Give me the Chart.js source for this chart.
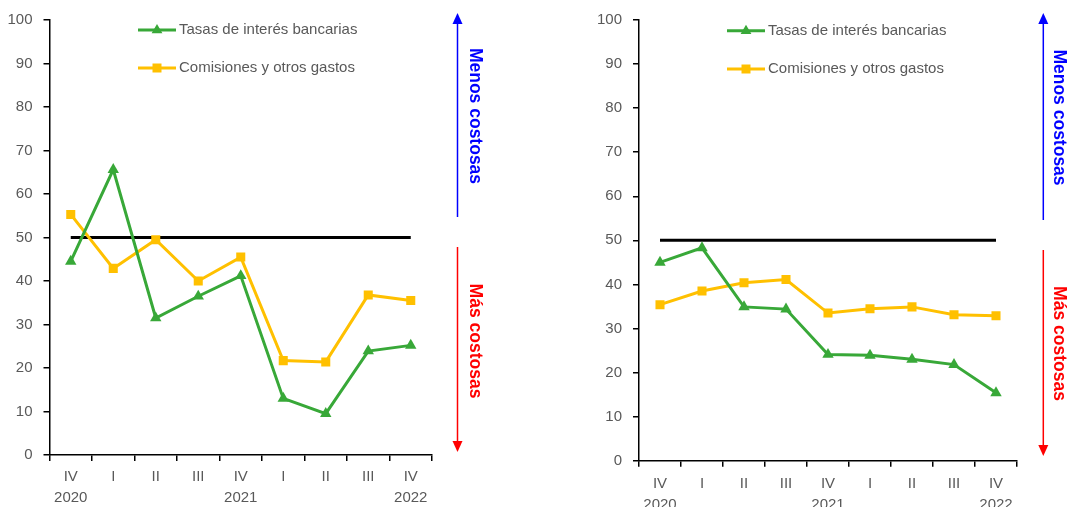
<!DOCTYPE html>
<html>
<head>
<meta charset="utf-8">
<script src="https://cdn.jsdelivr.net/npm/chart.js@4/dist/chart.umd.min.js"></script>
<style>
  body { margin: 0; background: #fff; }
  .panel { position: absolute; top: 0; height: 507px; }
</style>
</head>
<body>
<div class="panel" style="left:0; width:535px;"><canvas id="izq"></canvas></div>
<div class="panel" style="left:535px; width:534px;"><canvas id="der"></canvas></div>
<script>
// trimestres y años del eje x
const trimestres = ['IV', 'I', 'II', 'III', 'IV', 'I', 'II', 'III', 'IV'];
const anios = ['2020', '', '', '', '2021', '', '', '', '2022'];
const series = ['Tasas de interés bancarias', 'Comisiones y otros gastos'];

// panel izquierdo
const tasasIzq = [44.5, 65.6, 31.5, 36.5, 41.2, 13.0, 9.5, 23.9, 25.2];
const comisionesIzq = [55.3, 42.9, 49.5, 40.0, 45.5, 21.7, 21.4, 36.8, 35.5];

// panel derecho
const tasasDer = [45.0, 48.3, 34.9, 34.4, 24.1, 23.9, 23.0, 21.8, 15.4];
const comisionesDer = [35.4, 38.5, 40.4, 41.1, 33.5, 34.5, 34.9, 33.1, 32.9];

const neutral = 50;

const verde = '#38a838';
const amarillo = '#ffc000';
const gris = '#595959';
const fuente = "'Liberation Sans', Arial, sans-serif";

function constroiLabels(){
  let temp = [];
  trimestres.map((v, i) => {
    temp.push([v, anios[i]]);
  })
  return temp;
}

function marcador(ctx, tipo, x, y, color){
  ctx.fillStyle = color;
  ctx.beginPath();
  if (tipo === 'triangle') {
    ctx.moveTo(x, y - 6);
    ctx.lineTo(x + 5.4, y + 3.2);
    ctx.lineTo(x - 5.4, y + 3.2);
  } else {
    ctx.rect(x - 4.5, y - 4.5, 9, 9);
  }
  ctx.closePath();
  ctx.fill();
}

function flecha(ctx, x, y1, y2, color, haciaArriba){
  ctx.save();
  ctx.strokeStyle = color;
  ctx.fillStyle = color;
  ctx.lineWidth = 1.5;
  ctx.beginPath();
  if (haciaArriba) {
    ctx.moveTo(x, y2);
    ctx.lineTo(x, y1 + 8);
  } else {
    ctx.moveTo(x, y1);
    ctx.lineTo(x, y2 - 8);
  }
  ctx.stroke();
  ctx.beginPath();
  if (haciaArriba) {
    ctx.moveTo(x, y1);
    ctx.lineTo(x + 5, y1 + 11);
    ctx.lineTo(x - 5, y1 + 11);
  } else {
    ctx.moveTo(x, y2);
    ctx.lineTo(x + 5, y2 - 11);
    ctx.lineTo(x - 5, y2 - 11);
  }
  ctx.closePath();
  ctx.fill();
  ctx.restore();
}

function textoVertical(ctx, txt, x, y, color){
  ctx.save();
  ctx.translate(x, y);
  ctx.rotate(Math.PI / 2);
  ctx.font = 'bold 17.5px ' + fuente;
  ctx.fillStyle = color;
  ctx.textAlign = 'center';
  ctx.textBaseline = 'middle';
  ctx.fillText(txt, 0, 0);
  ctx.restore();
}

const extras = {
  id: 'extras',
  afterDraw(chart, args, o) {
    const ctx = chart.ctx;
    // leyenda
    const tipos = ['triangle', 'rect'];
    const cores = [verde, amarillo];
    o.leyendaY.forEach((y, i) => {
      ctx.save();
      ctx.strokeStyle = cores[i];
      ctx.lineWidth = 3;
      ctx.beginPath();
      ctx.moveTo(o.leyendaX, y);
      ctx.lineTo(o.leyendaX + 38, y);
      ctx.stroke();
      marcador(ctx, tipos[i], o.leyendaX + 19, y, cores[i]);
      ctx.font = '15px ' + fuente;
      ctx.fillStyle = gris;
      ctx.textAlign = 'left';
      ctx.textBaseline = 'middle';
      ctx.fillText(series[i], o.leyendaX + 41, y);
      ctx.restore();
    });
    // flechas
    flecha(ctx, o.flechaX, 13, o.azulFin, '#0000ff', true);
    flecha(ctx, o.flechaX, o.rojoIni, o.rojoFin, '#ff0000', false);
    textoVertical(ctx, 'Menos costosas', o.textoX, o.menosY, '#0000ff');
    textoVertical(ctx, 'Más costosas', o.textoX, o.masY, '#ff0000');
  }
};

function montaGrafico(id, tasas, comisiones, g){
  const ctx = document.getElementById(id);
  return new Chart(ctx, {
    type: 'line',
    data: {
      labels: constroiLabels(),
      datasets: [{
        label: series[0],
        data: tasas,
        borderColor: verde,
        backgroundColor: verde,
        borderWidth: 3,
        pointStyle: 'triangle',
        pointRadius: 6.6,
        pointBorderWidth: 0,
        tension: 0
      }, {
        label: series[1],
        data: comisiones,
        borderColor: amarillo,
        backgroundColor: amarillo,
        borderWidth: 3,
        pointStyle: 'rect',
        pointRadius: 6.4,
        pointBorderWidth: 0,
        tension: 0
      }, {
        label: 'neutral',
        data: trimestres.map(() => neutral),
        borderColor: '#000',
        borderWidth: 3,
        pointRadius: 0,
        order: 5
      }]
    },
    options: {
      responsive: true,
      maintainAspectRatio: false,
      animation: false,
      events: [],
      layout: { padding: { left: 0, top: g.top, right: g.right, bottom: 0 } },
      plugins: {
        legend: { display: false },
        tooltip: { enabled: false },
        extras: g.extras
      },
      scales: {
        x: {
          offset: true,
          grid: { offset: true, drawOnChartArea: false, drawTicks: true, tickLength: 6, color: '#000', lineWidth: 1.5 },
          border: { color: '#000', width: 1.5 },
          ticks: { color: gris, padding: g.xPad, maxRotation: 0, autoSkip: false, font: { family: fuente, size: 15, lineHeight: 1.4 } },
          afterFit: (s) => { s.height = g.xAlto; }
        },
        y: {
          min: 0,
          max: 100,
          ticks: { stepSize: 10, color: gris, padding: 11, font: { family: fuente, size: 15 } },
          grid: { drawOnChartArea: false, drawTicks: true, tickLength: 6, color: '#000', lineWidth: 1.5 },
          border: { color: '#000', width: 1.5 },
          afterFit: (s) => { s.width = g.yAncho; }
        }
      }
    },
    plugins: [extras]
  });
}

montaGrafico('izq', tasasIzq, comisionesIzq, {
  top: 18, right: 103, yAncho: 49.5, xAlto: 52, xPad: 5,
  extras: { leyendaX: 138, leyendaY: [30, 68], flechaX: 457.5, azulFin: 217, rojoIni: 247, rojoFin: 452, textoX: 475, menosY: 116, masY: 341 }
});

montaGrafico('der', tasasDer, comisionesDer, {
  top: 18, right: 52, yAncho: 104, xAlto: 46.3, xPad: 7,
  extras: { leyendaX: 192, leyendaY: [30.7, 69], flechaX: 508.3, azulFin: 220, rojoIni: 250, rojoFin: 456, textoX: 524, menosY: 117.5, masY: 343.5 }
});
</script>
</body>
</html>
